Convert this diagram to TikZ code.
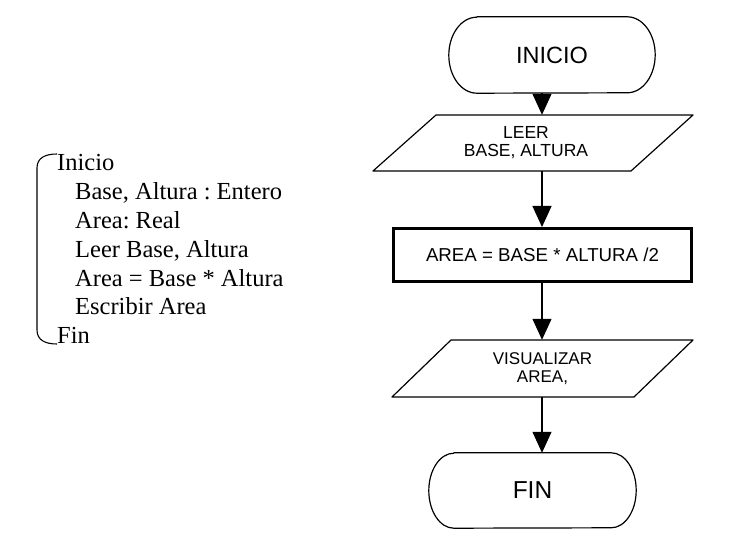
\documentclass[tikz,border=0pt]{standalone}
\usepackage{fontspec}
\setmainfont{Liberation Serif}
\newfontfamily\flowfont{Liberation Sans}
\usetikzlibrary{arrows.meta,calc}
\frenchspacing
\begin{document}
\begin{tikzpicture}[x=1pt,y=-1pt,
  outline/.style={draw=black,line width=1.2pt,line join=round},
  term/.style={minimum height=76pt,inner sep=0pt,font=\flowfont\fontsize{23.5}{26}\selectfont},
  io/.style={minimum height=56pt,minimum width=200pt,inner sep=0pt,align=center},
  proc/.style={draw=black,line width=3pt,minimum width=298pt,minimum height=53pt,inner sep=0pt,font=\flowfont\fontsize{18.7}{20}\selectfont},
  flow/.style={draw=black,line width=1.2pt,-{Triangle[width=19pt,length=21pt]}},
  code/.style={anchor=base west,inner sep=0pt,font=\frenchspacing\fontsize{24.5}{29}\selectfont},
]
\fill[white] (0,0) rectangle (737,553);
\useasboundingbox (0,0) rectangle (737,553);
\coordinate (spine) at (542,0);

% INICIO terminal
\node[term,minimum width=206pt] (ini) at (552,55) {INICIO};
\draw[outline] ($(ini.north west)+(28pt,0)$) -- ($(ini.north east)+(-28pt,0)$)
  arc[start angle=90,end angle=-90,x radius=28pt,y radius=38pt]
  -- ($(ini.south west)+(28pt,0)$)
  arc[start angle=270,end angle=90,x radius=28pt,y radius=38pt] -- cycle;

% LEER input
\node[io,font=\flowfont\fontsize{17.5}{18}\selectfont] (leer) at (526,143) {LEER\\BASE, ALTURA};
\draw[outline] (436,115) -- (693,115) -- (631,171) -- (373,171) -- cycle;

% process
\node[proc] (area) at (542.5,255) {AREA = BASE * ALTURA /2};

% VISUALIZAR output
\node[io,minimum height=57pt,font=\flowfont\fontsize{17}{18}\selectfont] (vis) at (542.5,368.5) {VISUALIZAR\\AREA,};
\draw[outline] (451,340) -- (693,340) -- (634,397) -- (392,397) -- cycle;

% FIN terminal
\node[term,minimum width=207pt,minimum height=75pt,font=\flowfont\fontsize{24.5}{27}\selectfont] (fin) at (532.5,490.5) {FIN};
\draw[outline] ($(fin.north west)+(25pt,0)$) -- ($(fin.north east)+(-25pt,0)$)
  arc[start angle=90,end angle=-90,x radius=25pt,y radius=37.5pt]
  -- ($(fin.south west)+(25pt,0)$)
  arc[start angle=270,end angle=90,x radius=25pt,y radius=37.5pt] -- cycle;

% connectors
\draw[flow] (ini.south -| spine) -- (leer.north -| spine);
\draw[flow] (leer.south -| spine) -- (area.north -| spine);
\draw[flow] (area.south -| spine) -- (vis.north -| spine);
\draw[flow] (vis.south -| spine) -- (fin.north -| spine);

% pseudocode
\node[code] (l1) at (57,171) {Inicio};
\node[code] (l2) at (75,199.8) {Base, Altura : Entero};
\node[code] (l3) at (75,228.6) {Area: Real};
\node[code] (l4) at (75,257.4) {Leer Base, Altura};
\node[code] (l5) at (75,286.2) {Area = Base * Altura};
\node[code] (l6) at (75,315) {Escribir Area};
\node[code] (l7) at (57,343.8) {Fin};
\draw[line width=1.1pt] (57,154) .. controls (45,154) and (37,158) .. (37,168)
  -- (37,330) .. controls (37,340) and (45,344) .. (57,344);
\end{tikzpicture}
\end{document}
